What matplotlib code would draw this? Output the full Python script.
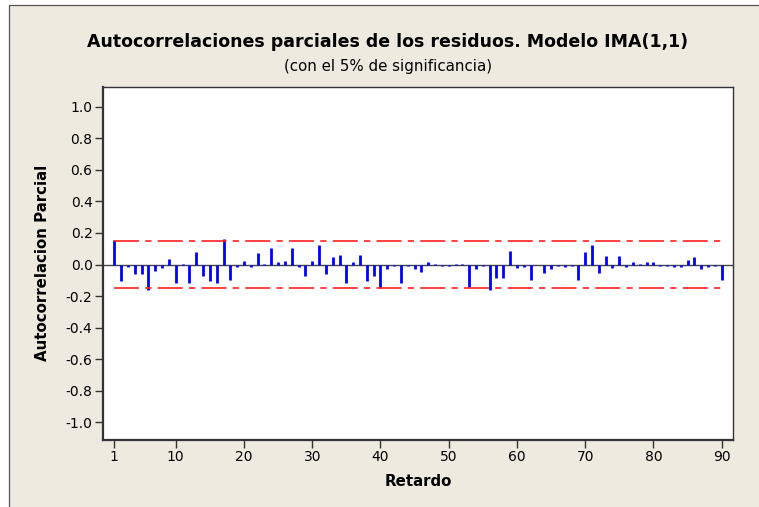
import matplotlib
matplotlib.use('Agg')
import matplotlib.pyplot as plt
from matplotlib.patches import Rectangle
import numpy as np

# partial autocorrelations, lags 1..90
lags = list(range(1, 91))
pacf = [
    0.157, -0.104, -0.017, -0.059, -0.063, -0.163, -0.038, -0.025, 0.038, -0.115,
    0.006, -0.115, 0.079, -0.073, -0.104, -0.115, 0.163, -0.096, -0.015, 0.021,
    -0.017, 0.071, 0.006, 0.104, 0.013, 0.023, 0.104, -0.017, -0.073, 0.025,
    0.121, -0.063, 0.048, 0.063, -0.115, 0.013, 0.063, -0.107, -0.071, -0.146,
    -0.031, -0.008, -0.115, -0.008, -0.031, -0.050, 0.013, 0.006, -0.008, -0.008,
    0.006, 0.006, -0.140, -0.031, -0.008, -0.163, -0.084, -0.084, 0.088, -0.025,
    -0.017, -0.100, -0.006, -0.052, -0.031, -0.008, -0.017, -0.008, -0.098, 0.079,
    0.121, -0.056, 0.056, -0.025, 0.056, -0.017, 0.013, 0.006, 0.013, 0.013,
    -0.008, -0.008, -0.017, -0.017, 0.031, 0.048, -0.031, -0.017, -0.008, -0.098,
]
limit = 0.147
xticks = [1, 10, 20, 30, 40, 50, 60, 70, 80, 90]
yticks = [1.0, 0.8, 0.6, 0.4, 0.2, 0.0, -0.2, -0.4, -0.6, -0.8, -1.0]

plt.rcParams['axes.unicode_minus'] = False
plt.rcParams['lines.scale_dashes'] = False
plt.rcParams['font.family'] = 'DejaVu Sans'

beige = '#EEEAE0'
dark = '#333333'

W, H = 759, 507
fig = plt.figure(figsize=(W / 100, H / 100), dpi=100)
fig.patch.set_facecolor('white')

# beige frame with a thin dark border (top and left visible)
fig.patches.append(Rectangle((9 / W, -0.05), 1.1, 1 - 5 / H + 0.05,
                             transform=fig.transFigure, facecolor=beige,
                             edgecolor='#555555', linewidth=0.9, zorder=-5))

ax = fig.add_axes([103 / W, 1 - 440 / H, 630 / W, 353 / H])
ax.set_facecolor('white')

ax.axhline(0, color='#444444', linewidth=1.0, zorder=2)
ax.vlines(lags, 0, pacf, colors='#0000FF', linewidth=2.0, zorder=3)
for v in (limit, -limit):
    ax.hlines(v, lags[0], lags[-1], colors='#FF2020', linewidth=1.2,
              linestyles=(0, (18, 4.5, 4.5, 4.5)), zorder=4)

ax.set_xlim(-0.66, 91.66)
ax.set_ylim(-1.112, 1.125)
ax.set_xticks(xticks)
ax.set_yticks(yticks)
ax.set_yticklabels(['%.1f' % t for t in yticks])
ax.tick_params(axis='both', direction='out', length=5.5, width=1.0,
               color=dark, labelsize=10, labelcolor='black', pad=2)

for side in ['left', 'bottom']:
    ax.spines[side].set_linewidth(1.6)
    ax.spines[side].set_color(dark)
for side in ['top', 'right']:
    ax.spines[side].set_linewidth(1.0)
    ax.spines[side].set_color(dark)

fig.text(388 / W, 1 - 42 / H,
         'Autocorrelaciones parciales de los residuos. Modelo IMA(1,1)',
         ha='center', va='center', fontsize=12.5, fontweight='bold')
fig.text(388 / W, 1 - 67 / H, '(con el 5% de significancia)',
         ha='center', va='center', fontsize=10.8)
fig.text(418 / W, 1 - 481.5 / H, 'Retardo', ha='center', va='center',
         fontsize=10.8, fontweight='bold')
fig.text(42.7 / W, 1 - 262.5 / H, 'Autocorrelacion Parcial', ha='center',
         va='center', rotation=90, fontsize=10.8, fontweight='bold')

fig.savefig('out.png', dpi=100, facecolor=fig.get_facecolor())
